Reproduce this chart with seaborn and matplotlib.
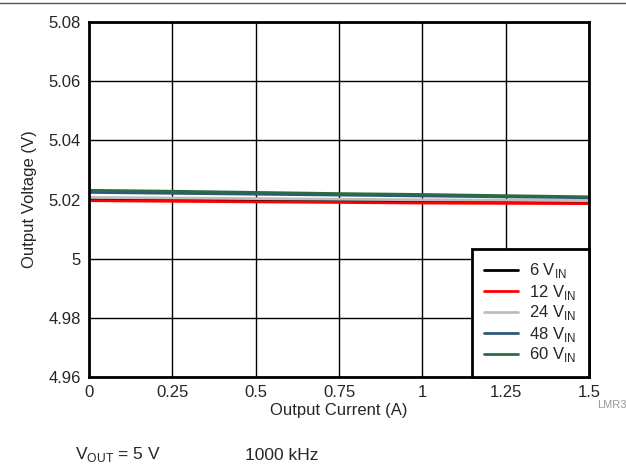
import matplotlib
matplotlib.use("Agg")
import matplotlib.pyplot as plt
import numpy as np
import seaborn as sns
import pandas as pd

# output current (A) and measured output voltage (V) per input voltage
current = [0.0, 0.25, 0.5, 0.75, 1.0, 1.25, 1.5]
v_6 = [5.0201, 5.0199, 5.0197, 5.0195, 5.0193, 5.0192, 5.0191]
v_12 = [5.0196, 5.0194, 5.0192, 5.0190, 5.0188, 5.0187, 5.0186]
v_24 = [5.0207, 5.0205, 5.0203, 5.0201, 5.0199, 5.0198, 5.0196]
v_48 = [5.0224, 5.0221, 5.0218, 5.0215, 5.0212, 5.0209, 5.0206]
v_60 = [5.0231, 5.0228, 5.0224, 5.0220, 5.0217, 5.0213, 5.0209]
labels = ["6 V$_{\\mathregular{IN}}$", "12 V$_{\\mathregular{IN}}$", "24 V$_{\\mathregular{IN}}$",
          "48 V$_{\\mathregular{IN}}$", "60 V$_{\\mathregular{IN}}$"]
colors = ["#000000", "#ff0000", "#bdbdbd", "#2d5a78", "#2a6b45"]

xticks = [0, 0.25, 0.5, 0.75, 1, 1.25, 1.5]
xticklabels = ["0", "0.25", "0.5", "0.75", "1", "1.25", "1.5"]
yticks = [4.96, 4.98, 5.0, 5.02, 5.04, 5.06, 5.08]
yticklabels = ["4.96", "4.98", "5", "5.02", "5.04", "5.06", "5.08"]

sns.set_style("white")
plt.rcParams["font.family"] = ["Liberation Sans", "DejaVu Sans"]
plt.rcParams["mathtext.fontset"] = "custom"
plt.rcParams["mathtext.rm"] = "Liberation Sans"

df = pd.DataFrame({"current": current * 5,
                   "voltage": v_6 + v_12 + v_24 + v_48 + v_60,
                   "series": [l for l in labels for _ in current]})

fig = plt.figure(figsize=(6.26, 4.66), dpi=100)
ax = fig.add_axes([89 / 626, 1 - 377 / 466, 500 / 626, 355 / 466])

ax.grid(True, color="#000000", linewidth=1.0)
sns.lineplot(data=df, x="current", y="voltage", hue="series", palette=colors,
             linewidth=2, ax=ax, legend=False)
for lab, c in zip(labels, colors):
    ax.plot([], [], color=c, linewidth=2, label=lab)

ax.set_xlim(0, 1.5)
ax.set_ylim(4.96, 5.08)
ax.set_xticks(xticks)
ax.set_xticklabels(xticklabels)
ax.set_yticks(yticks)
ax.set_yticklabels(yticklabels)
ax.tick_params(labelsize=12, length=0, pad=6)
ax.set_xlabel("Output Current (A)", fontsize=12, labelpad=2)
ax.set_ylabel("Output Voltage (V)", fontsize=12, labelpad=8)
for s in ax.spines.values():
    s.set_linewidth(2)
    s.set_color("black")

leg = ax.legend(loc="lower right", fontsize=12, frameon=True, fancybox=False,
                borderaxespad=0, handlelength=2.0, labelspacing=0.12,
                borderpad=0.75, handletextpad=0.7)
leg.get_frame().set_edgecolor("black")
leg.get_frame().set_linewidth(2)
leg.get_frame().set_alpha(1)

fig.add_artist(plt.Line2D([0, 1], [1 - 3 / 466, 1 - 3 / 466], color="#555555", linewidth=1))
fig.text(597 / 626, 1 - 405 / 466, "LMR3", fontsize=8, color="#999999", va="center")
fig.text(75 / 626, 1 - 455 / 466, "V$_{\\mathregular{OUT}}$ = 5 V", fontsize=12.5, va="center")
fig.text(245 / 626, 1 - 455 / 466, "1000 kHz", fontsize=12.5, va="center")

fig.savefig("out.png", dpi=100)
